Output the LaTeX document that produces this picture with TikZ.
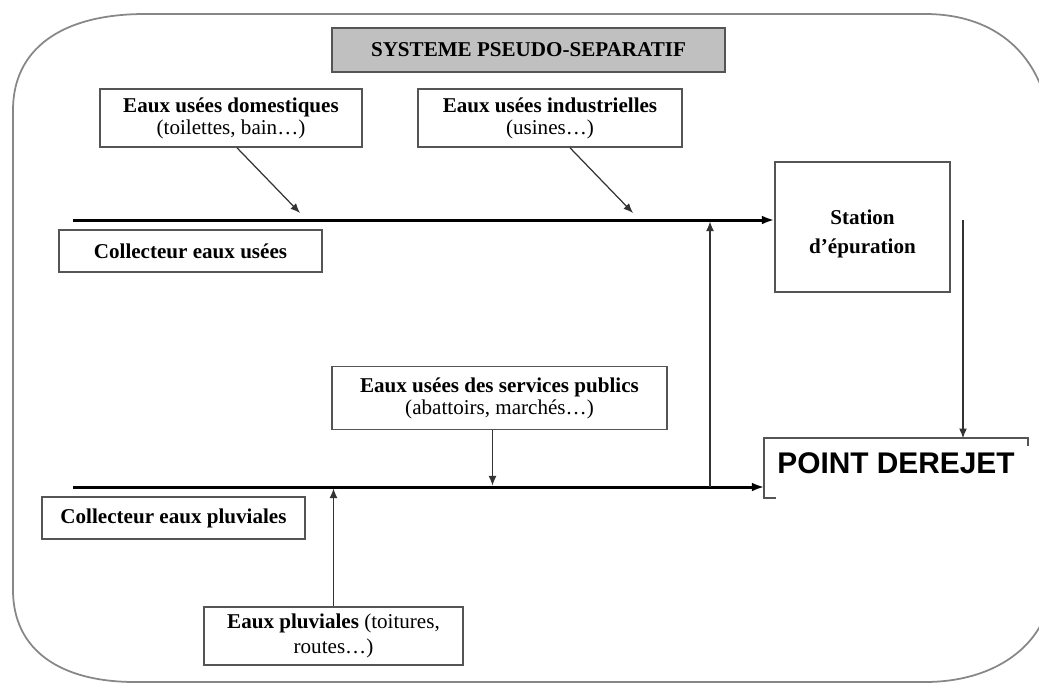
\documentclass[tikz,border=0pt]{standalone}
\usepackage{fontspec}
\setmainfont{Liberation Serif}
\newfontfamily\rejetfont{Liberation Sans}
\usetikzlibrary{arrows.meta,calc}
\definecolor{framegray}{RGB}{135,135,135}
\definecolor{titlegray}{RGB}{192,192,192}
\definecolor{boxgray}{RGB}{85,85,85}
\tikzset{
  box/.style={draw=boxgray, line width=0.9pt, align=center, inner sep=0pt,
    font=\fontsize{12}{12.5}\selectfont},
  collector/.style={line width=1.7pt, -{Latex[length=7pt,width=5pt]}},
  feed/.style={draw=black!80, line width=0.7pt, -{Latex[length=5.5pt,width=4.5pt]}},
}

\begin{document}
\begin{tikzpicture}[x=0.02cm,y=-0.02cm]
  \useasboundingbox (0,0) rectangle (1039,684);
  \clip (0,0) rectangle (1039,684);
  \draw[framegray, line width=1pt] (13,110) -- (13,590)
    .. controls (13,650) and (60,682) .. (135,682) -- (925,682)
    .. controls (1000,682) and (1052,640) .. (1052,580) -- (1052,150)
    .. controls (1052,60) and (1000,14) .. (925,14) -- (145,14)
    .. controls (60,14) and (13,50) .. (13,110) -- cycle;

  \node[box, fill=titlegray, minimum width=7.86cm, minimum height=0.88cm] (titre) at (528.5,50)
    {\textbf{SYSTEME PSEUDO-SEPARATIF}};
  \node[box, minimum width=5.24cm, minimum height=1.16cm] (dom) at (231,118)
    {\textbf{Eaux usées domestiques}\\(toilettes, bain\ldots)};
  \node[box, minimum width=5.28cm, minimum height=1.16cm] (ind) at (550,118)
    {\textbf{Eaux usées industrielles}\\(usines\ldots)};
  \node[box, minimum width=5.26cm, minimum height=0.84cm] (coluse) at (190.5,251)
    {\textbf{Collecteur eaux usées}};
  \node[box, minimum width=3.5cm, minimum height=2.6cm] (station) at (862.5,227)
    {\raisebox{-7.5pt}[0pt][0pt]{\begin{tabular}{@{}c@{}}\textbf{Station}\\[4pt]\textbf{d’épuration}\end{tabular}}};
  \node[box, minimum width=6.7cm, minimum height=1.26cm] (serv) at (499.5,398)
    {\textbf{Eaux usées des services publics}\\(abattoirs, marchés\ldots)};
  \node[box, draw=none, minimum width=5.24cm, minimum height=1.16cm] (rejet) at (896,468)
    {\raisebox{6pt}{\rejetfont\fontsize{17}{17}\selectfont\bfseries POINT DEREJET}};
  \node[box, minimum width=5.26cm, minimum height=0.84cm] (colpluv) at (173.5,518)
    {\textbf{Collecteur eaux pluviales}};
  \node[box, minimum width=5.18cm, minimum height=1.16cm] (pluv) at (333.5,636)
    {\textbf{Eaux pluviales} (toitures,\\[2pt]routes\ldots)};

  % border of the outlet box, only partly drawn
  \draw[boxgray, line width=0.9pt] ([xshift=0.24cm]rejet.south west) -- (rejet.south west)
    -- (rejet.north west) -- (rejet.north east) -- ++(0,8);

  % collectors
  \coordinate (u0) at (73,220);
  \coordinate (p0) at (73,487);
  \draw[collector] (u0) -- (u0 -| station.west);
  \draw[collector] (p0) -- (p0 -| rejet.west);

  % inflows
  \coordinate (d1) at (300,213);
  \coordinate (i1) at (633,213);
  \draw[feed] ($(dom.south)+(6,0)$) -- (d1);
  \draw[feed] ($(ind.south)+(20,0)$) -- (i1);
  \coordinate (v1) at ($(serv.south)+(-7,0)$);
  \draw[feed, shorten >=0.8pt] (v1) -- (v1 |- p0);
  \draw[feed, shorten >=0.8pt] (pluv.north) -- (pluv.north |- p0);
  \coordinate (jonction) at (710,487);
  \draw[feed, shorten >=0.8pt] (jonction) -- (jonction |- u0);
  \coordinate (s1) at (963,220);
  \draw[feed] (s1) -- (s1 |- rejet.north);
\end{tikzpicture}
\end{document}
